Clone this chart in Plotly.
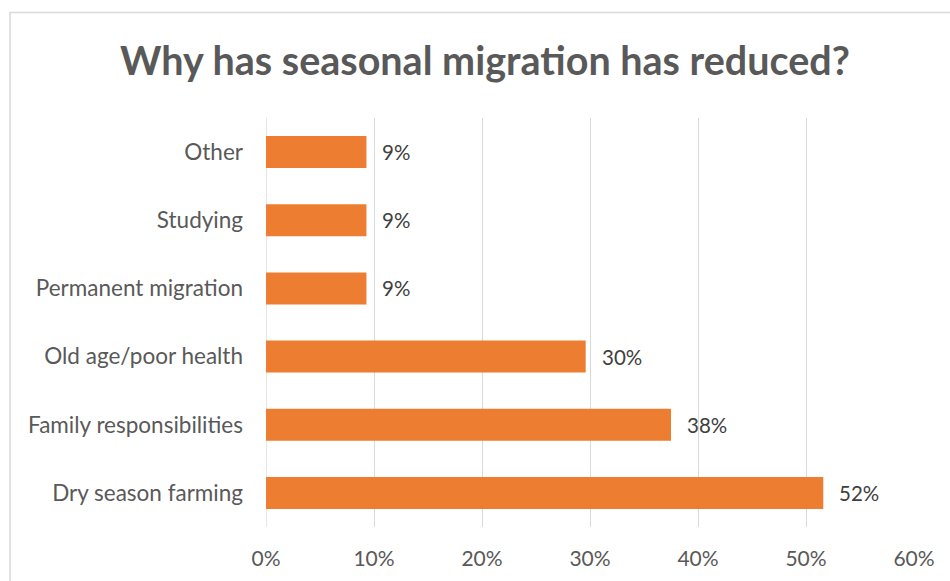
import plotly.graph_objects as go

categories = ["Dry season farming", "Family responsibilities", "Old age/poor health",
              "Permanent migration", "Studying", "Other"]
values = [0.516, 0.375, 0.296, 0.093, 0.093, 0.093]
x_ticks = [0, 0.1, 0.2, 0.3, 0.4, 0.5, 0.6]
x_tick_labels = ["0%", "10%", "20%", "30%", "40%", "50%", "60%"]
title_text = "Why has seasonal migration has reduced?"

W, H = 950, 581
L, R, T, B = 266, 36, 118, 54
pw, ph = W - L - R, H - T - B

def px_to_paper_x(px):
    return (px - L) / pw

def px_to_paper_y(py):
    return (H - B - py) / ph

fig = go.Figure()
fig.add_trace(go.Bar(
    y=categories, x=values, orientation="h",
    marker=dict(color="#ED7D31", line=dict(width=0)),
    width=0.47,
    hoverinfo="skip",
))

for c, v in zip(categories, values):
    fig.add_annotation(x=v, y=c, xref="x", yref="y", text=f"{round(v*100)}%",
                       showarrow=False, xanchor="left", yanchor="middle", xshift=14,
                       font=dict(family="Lato", size=20.5, color="#404040"))

fig.add_shape(type="rect", xref="paper", yref="paper",
              x0=px_to_paper_x(10), x1=px_to_paper_x(960),
              y0=px_to_paper_y(600), y1=px_to_paper_y(12.5),
              line=dict(color="#D9D9D9", width=1.5), layer="below")

fig.update_layout(
    width=W, height=H,
    margin=dict(l=L, r=R, t=T, b=B),
    paper_bgcolor="white", plot_bgcolor="white",
    showlegend=False,
    title=dict(text=f"<b>{title_text}</b>", x=485 / W, xanchor="center",
               xref="container",
               y=1 - 61 / H, yanchor="middle", yref="container",
               font=dict(family="Lato", size=39.5, color="#595959")),
    xaxis=dict(range=[0, 0.6], tickvals=x_ticks, ticktext=x_tick_labels,
               showgrid=True, gridcolor="#D9D9D9", gridwidth=1.3,
               zeroline=False, showline=False, ticks="",
               ticklabelstandoff=17,
               tickfont=dict(family="Lato", size=21, color="#595959"),
               fixedrange=True),
    yaxis=dict(showgrid=False, zeroline=False, showline=False, ticks="",
               ticklabelstandoff=22,
               tickfont=dict(family="Lato", size=22.5, color="#595959"),
               fixedrange=True),
)
fig.add_vline(x=0, line=dict(color="#D9D9D9", width=1.3), layer="below")

fig.write_html("out.html")
